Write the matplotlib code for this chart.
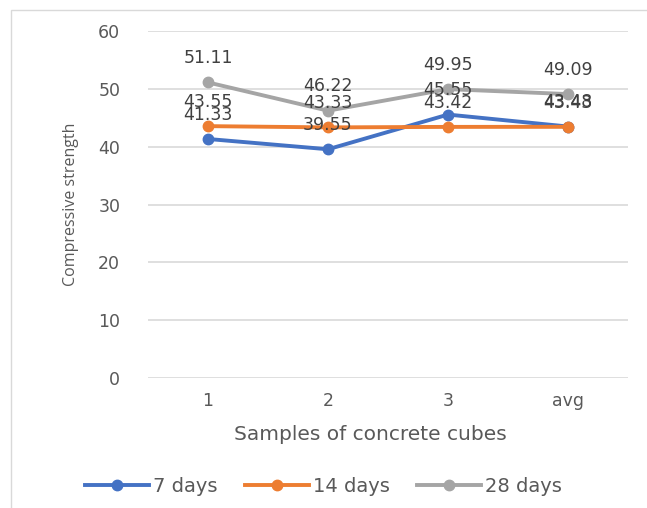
import matplotlib
matplotlib.use("Agg")
import matplotlib.pyplot as plt
from matplotlib.patches import Rectangle

# data
samples = ["1", "2", "3", "avg"]
days_7 = [41.33, 39.55, 45.55, 43.48]
days_14 = [43.55, 43.33, 43.42, 43.43]
days_28 = [51.11, 46.22, 49.95, 49.09]
series_names = ["7 days", "14 days", "28 days"]
colors = ["#4472C4", "#ED7D31", "#A5A5A5"]
yticks = [0, 10, 20, 30, 40, 50, 60]

text_col = "#595959"
plt.rcParams['font.family'] = ['DejaVu Sans']

fig = plt.figure(figsize=(6.47, 5.08), dpi=100)
fig.patches.append(Rectangle((11/647, -0.01), 1.0, 1 - 10/508 + 0.01,
                             transform=fig.transFigure, fill=False,
                             edgecolor="#D9D9D9", linewidth=1.0))
ax = fig.add_axes([148/647, 1 - 378/508, 480/647, 347/508])

x = list(range(len(samples)))
for vals, name, col in zip([days_7, days_14, days_28], series_names, colors):
    ax.plot(x, vals, color=col, linewidth=2.8, marker="o", markersize=7.5,
            label=name, zorder=3)
    for xi, v in zip(x, vals):
        ax.annotate(f"{v:.2f}", (xi, v), xytext=(0, 11), textcoords="offset points",
                    ha="center", va="bottom", fontsize=12.5, color="#404040",
                    zorder=4)

ax.set_xlim(-0.5, len(samples) - 0.5)
ax.set_ylim(0, 60)
ax.set_yticks(yticks)
ax.set_xticks(x)
ax.set_xticklabels(samples)
ax.grid(axis="y", color="#D9D9D9", linewidth=1.2)
ax.set_axisbelow(True)
for s in ax.spines.values():
    s.set_visible(False)
ax.tick_params(length=0, colors=text_col, labelsize=12.5)
ax.tick_params(axis="y", pad=20)
ax.tick_params(axis="x", pad=10)

ax.set_ylabel("Compressive strength", color=text_col, fontsize=11.5, labelpad=14,
              family="Open Sans")
ax.set_xlabel("Samples of concrete cubes", color=text_col, fontsize=14.5, labelpad=8)
ax.xaxis.set_label_coords((370 - 148) / 480, -0.135)

handles, labels = ax.get_legend_handles_labels()
fig.legend(handles, labels, loc="center", bbox_to_anchor=(0.5, 1 - 486/508), ncol=3,
           frameon=False, fontsize=14, handlelength=3.3, columnspacing=1.4,
           handletextpad=0.2, labelcolor=text_col)

fig.savefig("out.png", dpi=100)
